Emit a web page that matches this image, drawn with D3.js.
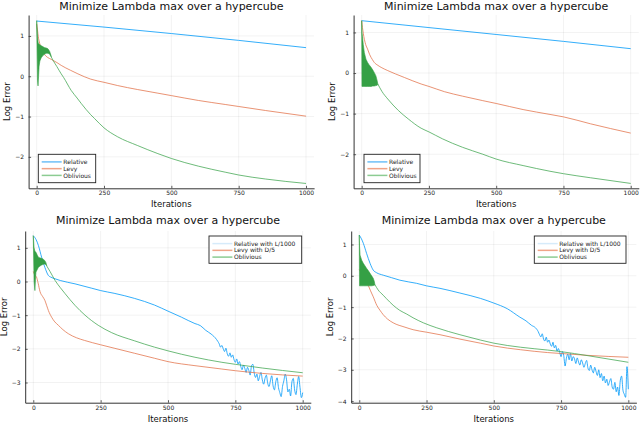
<!DOCTYPE html>
<html>
<head>
<meta charset="utf-8">
<script src="https://cdn.jsdelivr.net/npm/d3@7"></script>
<style>
  body { margin: 0; background: #fff; }
  svg { display: block; font-family: "DejaVu Sans", sans-serif; }
</style>
</head>
<body>
<svg id="chart" width="640" height="423"></svg>
<script>
// ---- data ----
const xTicks = [0, 250, 500, 750, 1000];
const yTicksTop = [-2, -1, 0, 1];
const yTicksBL = [-3, -2, -1, 0, 1];
const yTicksBR = [-4, -3, -2, -1, 0, 1];
const titleText = "Minimize Lambda max over a hypercube";
const legendTop = ["Relative", "Levy", "Oblivious"];
const legendBottom = ["Relative with L/1000", "Levy with D/5", "Oblivious"];

// top left
const p1RelIt = [0, 250, 500, 750, 1000];
const p1RelVal = [1.37, 1.22, 1.06, 0.89, 0.71];
const p1LevyIt = [0, 3, 6, 10, 14, 17, 22, 30, 40, 54, 75, 91, 125, 153, 200, 250, 300, 375, 450, 500, 600, 700, 750, 850, 1000];
const p1LevyVal = [1.30, 1.15, 0.98, 0.85, 0.74, 0.67, 0.60, 0.53, 0.47, 0.42, 0.34, 0.27, 0.15, 0.06, -0.07, -0.15, -0.23, -0.33, -0.42, -0.48, -0.60, -0.70, -0.75, -0.85, -0.99];
const p1BandIt = [0, 3, 5, 7, 9, 12, 17, 24, 30, 36, 42, 48, 54];
const p1BandHi = [1.38, 1.00, 0.85, 0.80, 0.80, 0.78, 0.76, 0.73, 0.71, 0.70, 0.68, 0.62, 0.50];
const p1BandLo = [1.30, -0.10, -0.24, 0.00, 0.25, 0.38, 0.46, 0.52, 0.55, 0.57, 0.57, 0.55, 0.48];
const p1OblIt = [54, 62, 75, 91, 100, 128, 150, 166, 200, 215, 250, 300, 375, 450, 500, 600, 700, 750, 850, 1000];
const p1OblVal = [0.48, 0.38, 0.24, 0.06, -0.03, -0.35, -0.54, -0.68, -0.95, -1.05, -1.28, -1.50, -1.72, -1.92, -2.04, -2.23, -2.38, -2.45, -2.55, -2.66];

// top right
const p2RelIt = [0, 250, 500, 750, 1000];
const p2RelVal = [1.29, 1.12, 0.95, 0.78, 0.60];
const p2LevyIt = [0, 3, 6, 10, 15, 22, 30, 40, 47, 60, 75, 97, 125, 159, 221, 250, 308, 375, 450, 500, 600, 700, 750, 850, 1000];
const p2LevyVal = [1.29, 1.12, 0.98, 0.83, 0.70, 0.59, 0.45, 0.33, 0.26, 0.19, 0.13, 0.06, -0.02, -0.11, -0.27, -0.33, -0.46, -0.57, -0.68, -0.75, -0.90, -1.02, -1.08, -1.25, -1.48];
const p2BandIt = [0, 1, 3, 6, 10, 16, 22, 28, 35, 41, 47, 53, 58, 60];
const p2BandHi = [1.29, 1.00, 0.90, 0.70, 0.50, 0.34, 0.26, 0.20, 0.14, 0.08, 0.01, -0.07, -0.20, -0.27];
const p2BandLo = [1.25, -0.33, -0.33, -0.33, -0.33, -0.33, -0.33, -0.33, -0.33, -0.32, -0.32, -0.31, -0.30, -0.28];
const p2OblIt = [60, 75, 97, 136, 173, 221, 250, 300, 375, 450, 500, 600, 700, 750, 850, 1000];
const p2OblVal = [-0.27, -0.45, -0.64, -0.92, -1.13, -1.36, -1.45, -1.62, -1.83, -2.00, -2.12, -2.28, -2.42, -2.48, -2.58, -2.72];

// bottom left
const p3RelIt = [0, 10, 19, 31, 43, 56, 65, 81, 100, 155, 217, 250, 300, 375, 450, 500, 550, 600, 620, 640, 660, 680];
const p3RelVal = [1.36, 1.25, 1.07, 0.72, 0.42, 0.18, 0.13, 0.08, 0.03, -0.07, -0.20, -0.27, -0.35, -0.50, -0.70, -0.88, -1.06, -1.25, -1.31, -1.45, -1.56, -1.72];
const p3NoiseIt = d3.range(685, 1001, 5);
const p3NoiseVal = [
  -1.78, -1.85, -1.95, -1.90, -2.00, -2.08, -1.98, -2.15,
  -2.22, -2.12, -2.25, -2.18, -2.32, -2.40, -2.30, -2.45,
  -2.38, -2.52, -2.62, -2.48, -2.58, -2.70, -2.55, -2.64,
  -2.78, -2.50, -2.46, -2.72, -2.85, -2.75, -2.95, -2.82,
  -2.70, -2.92, -3.05, -2.88, -2.78, -3.02, -3.12, -2.95,
  -2.80, -3.10, -3.22, -2.98, -2.86, -3.15, -3.30, -3.42,
  -3.12, -2.95, -2.75, -2.92, -3.28, -3.20, -3.40, -2.98,
  -2.88, -3.22, -3.36, -3.05, -2.82, -3.15, -3.45, -3.30];
const p3LevyIt = [0, 5, 12, 18, 25, 35, 43, 50, 56, 68, 80, 93, 110, 130, 160, 190, 250, 300, 375, 450, 500, 600, 700, 750, 850, 1000];
const p3LevyVal = [0.30, 0.20, 0.13, -0.05, -0.30, -0.45, -0.56, -0.72, -0.86, -1.06, -1.20, -1.30, -1.43, -1.55, -1.67, -1.75, -1.88, -1.98, -2.13, -2.28, -2.38, -2.50, -2.60, -2.65, -2.73, -2.81];
const p3BandIt = [0, 3, 6, 8, 10, 15, 19, 25, 31, 37, 43, 47, 50];
const p3BandHi = [1.36, 1.00, 0.90, 0.88, 0.87, 0.78, 0.72, 0.70, 0.69, 0.66, 0.62, 0.56, 0.47];
const p3BandLo = [1.30, 0.00, -0.27, 0.05, 0.28, 0.36, 0.42, 0.46, 0.49, 0.51, 0.52, 0.50, 0.46];
const p3OblIt = [50, 62, 81, 100, 118, 155, 192, 241, 291, 375, 450, 500, 600, 700, 750, 850, 1000];
const p3OblVal = [0.46, 0.30, 0.03, -0.18, -0.36, -0.71, -1.00, -1.30, -1.52, -1.76, -1.95, -2.06, -2.25, -2.40, -2.46, -2.57, -2.71];

// bottom right
const p4RelIt = [0, 8, 15, 27, 40, 52, 64, 89, 120, 151, 213, 250, 300, 374, 450, 500, 550, 597, 620, 640, 655, 665];
const p4RelVal = [1.30, 1.18, 1.04, 0.72, 0.40, 0.18, 0.10, 0.02, -0.06, -0.14, -0.24, -0.32, -0.40, -0.55, -0.72, -0.87, -1.05, -1.32, -1.44, -1.58, -1.66, -1.78];
const p4NoiseIt = d3.range(670, 1001, 5);
const p4NoiseVal = [
  -1.88, -1.95, -1.85, -2.02, -2.08, -1.96, -2.12, -2.05,
  -2.18, -2.25, -2.12, -2.30, -2.22, -2.40, -2.32, -2.45,
  -2.58, -2.42, -2.55, -2.88, -2.62, -2.50, -2.68, -2.48,
  -2.72, -2.58, -2.65, -2.80, -2.62, -2.75, -2.85, -2.68,
  -2.78, -2.92, -2.80, -2.70, -2.95, -3.02, -2.85, -3.00,
  -3.10, -2.92, -3.05, -3.18, -3.00, -3.25, -3.12, -3.35,
  -3.20, -3.42, -3.30, -3.50, -3.38, -3.28, -3.55, -3.62,
  -3.40, -3.70, -3.55, -3.82, -3.35, -3.20, -3.65, -3.78,
  -3.88, -2.90, -3.62];
const p4LevyIt = [0, 10, 20, 33, 42, 52, 65, 77, 89, 105, 126, 170, 200, 250, 300, 374, 450, 500, 600, 700, 750, 850, 1000];
const p4LevyVal = [0.20, 0.05, -0.10, -0.30, -0.48, -0.67, -0.94, -1.10, -1.24, -1.38, -1.50, -1.64, -1.72, -1.80, -1.88, -2.02, -2.15, -2.24, -2.36, -2.45, -2.48, -2.54, -2.60];
const p4BandIt = [0, 1, 3, 9, 15, 21, 27, 34, 40, 46, 52, 56, 58];
const p4BandHi = [1.30, 0.95, 0.66, 0.50, 0.40, 0.32, 0.24, 0.16, 0.08, 0.00, -0.08, -0.18, -0.28];
const p4BandLo = [1.20, -0.32, -0.32, -0.32, -0.32, -0.32, -0.32, -0.32, -0.32, -0.32, -0.31, -0.30, -0.29];
const p4OblIt = [58, 70, 89, 100, 126, 150, 176, 200, 238, 288, 374, 450, 500, 600, 700, 750, 850, 1000];
const p4OblVal = [-0.28, -0.45, -0.62, -0.72, -0.94, -1.10, -1.22, -1.34, -1.50, -1.66, -1.88, -2.05, -2.15, -2.28, -2.37, -2.42, -2.55, -2.76];

// ---- drawing ----
const blue = "#009af9", orange = "#e26f46", green = "#3da44d";
const svg = d3.select("#chart");

function pts(its, vals) { return its.map((it, i) => [it, vals[i]]); }
function fmt(d) { return d < 0 ? "\u2212" + Math.abs(d) : String(d); }

const panels = [
  { left: 28.6, right: 314.1, top: 15, bottom: 188.3, yDom: [-2.78, 1.52], yTicks: yTicksTop,
    titleY: 9.5, xLabelY: 206.5,
    legend: { x: 38.3, y: 154.3, w: 57.4, h: 28.4, names: legendTop, faint: false },
    rel: pts(p1RelIt, p1RelVal), levy: pts(p1LevyIt, p1LevyVal),
    band: p1BandIt.map((it, i) => [it, p1BandLo[i], p1BandHi[i]]), obl: pts(p1OblIt, p1OblVal) },
  { left: 353.6, right: 638.8, top: 15, bottom: 188.3, yDom: [-2.84, 1.43], yTicks: yTicksTop,
    titleY: 9.5, xLabelY: 206.5,
    legend: { x: 364, y: 154.3, w: 56, h: 28.4, names: legendTop, faint: false },
    rel: pts(p2RelIt, p2RelVal), levy: pts(p2LevyIt, p2LevyVal),
    band: p2BandIt.map((it, i) => [it, p2BandLo[i], p2BandHi[i]]), obl: pts(p2OblIt, p2OblVal) },
  { left: 25.2, right: 310.8, top: 231, bottom: 402.7, yDom: [-3.60, 1.50], yTicks: yTicksBL,
    titleY: 224.3, xLabelY: 421.5,
    legend: { x: 209, y: 236, w: 92.7, h: 27.3, names: legendBottom, faint: true },
    rel: pts(p3RelIt, p3RelVal).concat(pts(p3NoiseIt, p3NoiseVal)), levy: pts(p3LevyIt, p3LevyVal),
    band: p3BandIt.map((it, i) => [it, p3BandLo[i], p3BandHi[i]]), obl: pts(p3OblIt, p3OblVal) },
  { left: 351.2, right: 636.4, top: 231, bottom: 402.7, yDom: [-4.05, 1.43], yTicks: yTicksBR,
    titleY: 224.3, xLabelY: 421.5,
    legend: { x: 534.3, y: 236, w: 91.7, h: 27.3, names: legendBottom, faint: true },
    rel: pts(p4RelIt, p4RelVal).concat(pts(p4NoiseIt, p4NoiseVal)), levy: pts(p4LevyIt, p4LevyVal),
    band: p4BandIt.map((it, i) => [it, p4BandLo[i], p4BandHi[i]]), obl: pts(p4OblIt, p4OblVal) }
];

panels.forEach(function (p) {
  const x = d3.scaleLinear().domain([-30, 1030]).range([p.left, p.right]);
  const y = d3.scaleLinear().domain(p.yDom).range([p.bottom, p.top]);
  const g = svg.append("g");

  // grid
  g.append("g").selectAll("line").data(xTicks).join("line")
    .attr("x1", d => x(d)).attr("x2", d => x(d)).attr("y1", p.top).attr("y2", p.bottom)
    .attr("stroke", "#000").attr("stroke-opacity", 0.1).attr("stroke-width", 0.5);
  g.append("g").selectAll("line").data(p.yTicks).join("line")
    .attr("x1", p.left).attr("x2", p.right).attr("y1", d => y(d)).attr("y2", d => y(d))
    .attr("stroke", "#000").attr("stroke-opacity", 0.1).attr("stroke-width", 0.5);

  // series
  const line = d3.line().x(d => x(d[0])).y(d => y(d[1])).curve(d3.curveMonotoneX);
  const clip = "clip" + Math.round(p.left);
  svg.append("clipPath").attr("id", clip).append("rect")
    .attr("x", p.left).attr("y", p.top).attr("width", p.right - p.left).attr("height", p.bottom - p.top);
  const s = g.append("g").attr("clip-path", "url(#" + clip + ")");
  s.append("path").datum(p.rel).attr("d", line).attr("fill", "none")
    .attr("stroke", blue).attr("stroke-width", 1).attr("stroke-opacity", 0.8);
  s.append("path").datum(p.levy).attr("d", line).attr("fill", "none")
    .attr("stroke", orange).attr("stroke-width", 1).attr("stroke-opacity", 0.75);
  const area = d3.area().x(d => x(d[0])).y0(d => y(d[1])).y1(d => y(d[2]));
  s.append("path").datum(p.band).attr("d", area)
    .attr("fill", "#35a045").attr("stroke", "#35a045").attr("stroke-width", 0.6);
  s.append("path").datum(p.obl).attr("d", line).attr("fill", "none")
    .attr("stroke", green).attr("stroke-width", 1).attr("stroke-opacity", 0.75);

  // axes
  const xAxis = d3.axisBottom(x).tickValues(xTicks).tickFormat(fmt)
    .tickSize(-2.5).tickSizeOuter(0).tickPadding(2.7);
  const yAxis = d3.axisLeft(y).tickValues(p.yTicks).tickFormat(fmt)
    .tickSize(-2.5).tickSizeOuter(0).tickPadding(4.6);
  [g.append("g").attr("transform", "translate(0," + p.bottom + ")").call(xAxis),
   g.append("g").attr("transform", "translate(" + p.left + ",0)").call(yAxis)].forEach(function (a) {
    a.select(".domain").attr("stroke", "#333").attr("stroke-width", 1);
    a.selectAll(".tick line").attr("stroke", "#333").attr("stroke-width", 0.8);
    a.selectAll(".tick text").attr("font-size", "6px").attr("fill", "#222")
      .attr("font-family", "DejaVu Sans, sans-serif");
  });

  // labels
  const cx = (p.left + p.right) / 2;
  g.append("text").attr("x", cx).attr("y", p.titleY).attr("text-anchor", "middle")
    .attr("font-size", "11px").attr("fill", "#111").text(titleText);
  g.append("text").attr("x", cx).attr("y", p.xLabelY).attr("text-anchor", "middle")
    .attr("font-size", "8.5px").attr("fill", "#111").text("Iterations");
  g.append("text").attr("transform", "translate(" + (p.left - 18.4) + "," + ((p.top + p.bottom) / 2) + ") rotate(-90)")
    .attr("text-anchor", "middle").attr("font-size", "8.5px").attr("fill", "#111").text("Log Error");

  // legend
  const L = p.legend;
  const lg = g.append("g").attr("transform", "translate(" + L.x + "," + L.y + ")");
  lg.append("rect").attr("width", L.w).attr("height", L.h)
    .attr("fill", "#fff").attr("stroke", "#222").attr("stroke-width", 0.9);
  const cols = [L.faint ? "#d6ebfa" : "#6ec0f7", "#f0a488", "#8ccc92"];
  const rows = lg.selectAll("g").data(L.names).join("g")
    .attr("transform", (d, i) => "translate(0," + (7.6 + i * 6.75) + ")");
  rows.append("line").attr("x1", 3.4).attr("x2", 23.4)
    .attr("stroke", (d, i) => cols[i]).attr("stroke-width", 1.5);
  rows.append("text").attr("x", 25).attr("dy", "0.35em").attr("font-size", "6px")
    .attr("fill", "#222").text(d => d);
});
</script>
</body>
</html>
